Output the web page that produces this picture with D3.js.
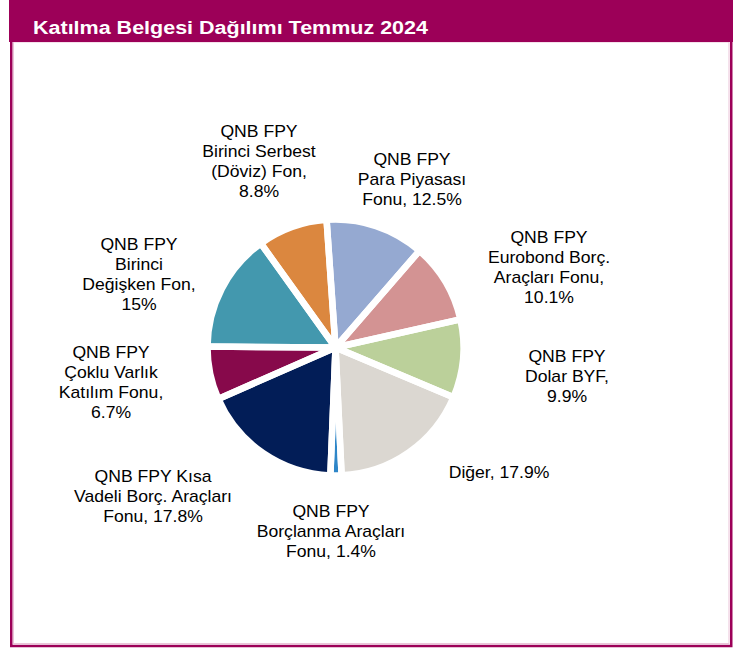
<!DOCTYPE html>
<html>
<head>
<meta charset="utf-8">
<script src="https://cdn.jsdelivr.net/npm/d3@7"></script>
<style>
  html, body { margin: 0; padding: 0; background: #fff; }
  svg { display: block; }
  text { font-family: "Liberation Sans", Arial, sans-serif; }
</style>
</head>
<body>
<svg id="chart" width="746" height="649"></svg>
<script>
// ---- data ----
const title = "Katılma Belgesi Dağılımı  Temmuz 2024";
const categories = [
  "QNB FPY Para Piyasası Fonu",
  "QNB FPY Eurobond Borç. Araçları Fonu",
  "QNB FPY Dolar BYF",
  "Diğer",
  "QNB FPY Borçlanma Araçları Fonu",
  "QNB FPY Kısa Vadeli Borç. Araçları Fonu",
  "QNB FPY Çoklu Varlık Katılım Fonu",
  "QNB FPY Birinci Değişken Fon",
  "QNB FPY Birinci Serbest (Döviz) Fon"
];
const values = [12.5, 10.1, 9.9, 17.9, 1.4, 17.8, 6.7, 15, 8.8];
const valueLabels = ["12.5", "10.1", "9.9", "17.9", "1.4", "17.8", "6.7", "15", "8.8"];
const labelLines = [
  ["QNB FPY", "Para Piyasası", "Fonu, {v}%"],
  ["QNB FPY", "Eurobond Borç.", "Araçları Fonu,", "{v}%"],
  ["QNB FPY", "Dolar BYF,", "{v}%"],
  ["Diğer, {v}%"],
  ["QNB FPY", "Borçlanma Araçları", "Fonu, {v}%"],
  ["QNB FPY Kısa", "Vadeli Borç. Araçları", "Fonu, {v}%"],
  ["QNB FPY", "Çoklu Varlık", "Katılım Fonu,", "{v}%"],
  ["QNB FPY", "Birinci", "Değişken Fon,", "{v}%"],
  ["QNB FPY", "Birinci Serbest", "(Döviz) Fon,", "{v}%"]
];
const colors = ["#95A9D1", "#D39393", "#BBD09A", "#DBD7D1", "#2E86C8", "#021D57", "#87094B", "#4398AE", "#DB873F"];

// ---- layout (not data) ----
const W = 746, H = 649;
const accent = "#9C0058";
const cx = 335.5, cy = 347.5, R = 128;
const rotation = -4 * Math.PI / 180;
const labelAnchors = [
  [412, 165], [549, 243], [567, 362], [499, 478], [331, 517],
  [153, 482], [111, 358], [139, 250], [259, 137]
];
const lineH = 20;
const stretch = 1.1;

const svg = d3.select("#chart");

// panel
svg.append("rect").attr("x", 0).attr("y", 0).attr("width", W).attr("height", H).attr("fill", "#fff");
svg.append("rect")
  .attr("x", 11.25).attr("y", 30).attr("width", 720).attr("height", 616)
  .attr("fill", "#fff").attr("stroke", accent).attr("stroke-width", 2.5);
svg.append("rect")
  .attr("x", 13.5).attr("y", 42).attr("width", 715.5).attr("height", 601.5)
  .attr("fill", "none").attr("stroke", "#EBC3D8").attr("stroke-width", 1);
// header
svg.append("rect").attr("x", 9).attr("y", 0).attr("width", 724).attr("height", 42).attr("fill", accent);
svg.append("text")
  .attr("x", 33).attr("y", 34)
  .attr("fill", "#fff").attr("font-weight", "bold").attr("font-size", 17.5)
  .attr("textLength", 395).attr("lengthAdjust", "spacingAndGlyphs")
  .text(title);

// pie
const pie = d3.pie().sort(null).value(d => d)
  .startAngle(rotation).endAngle(rotation + 2 * Math.PI);
const arcs = pie(values);
const arc = d3.arc().innerRadius(0).outerRadius(R);
const g = svg.append("g").attr("transform", `translate(${cx},${cy})`);
g.selectAll("path.fill").data(arcs).enter().append("path")
  .attr("class", "fill")
  .attr("d", arc)
  .attr("fill", (d, i) => colors[i]);
g.selectAll("path.edge").data(arcs).enter().append("path")
  .attr("class", "edge")
  .attr("d", arc)
  .attr("fill", "none")
  .attr("stroke", "#fff")
  .attr("stroke-width", 6.5)
  .attr("stroke-linejoin", "round");

// labels
categories.forEach((c, i) => {
  const [lx, ly] = labelAnchors[i];
  const lg = svg.append("g").attr("transform", `translate(${lx},${ly}) scale(${stretch},1)`);
  labelLines[i].forEach((ln, j) => {
    lg.append("text")
      .attr("x", 0).attr("y", j * lineH)
      .attr("text-anchor", "middle")
      .attr("font-size", 16)
      .attr("fill", "#000")
      .text(ln.replace("{v}", valueLabels[i]));
  });
});
</script>
</body>
</html>
